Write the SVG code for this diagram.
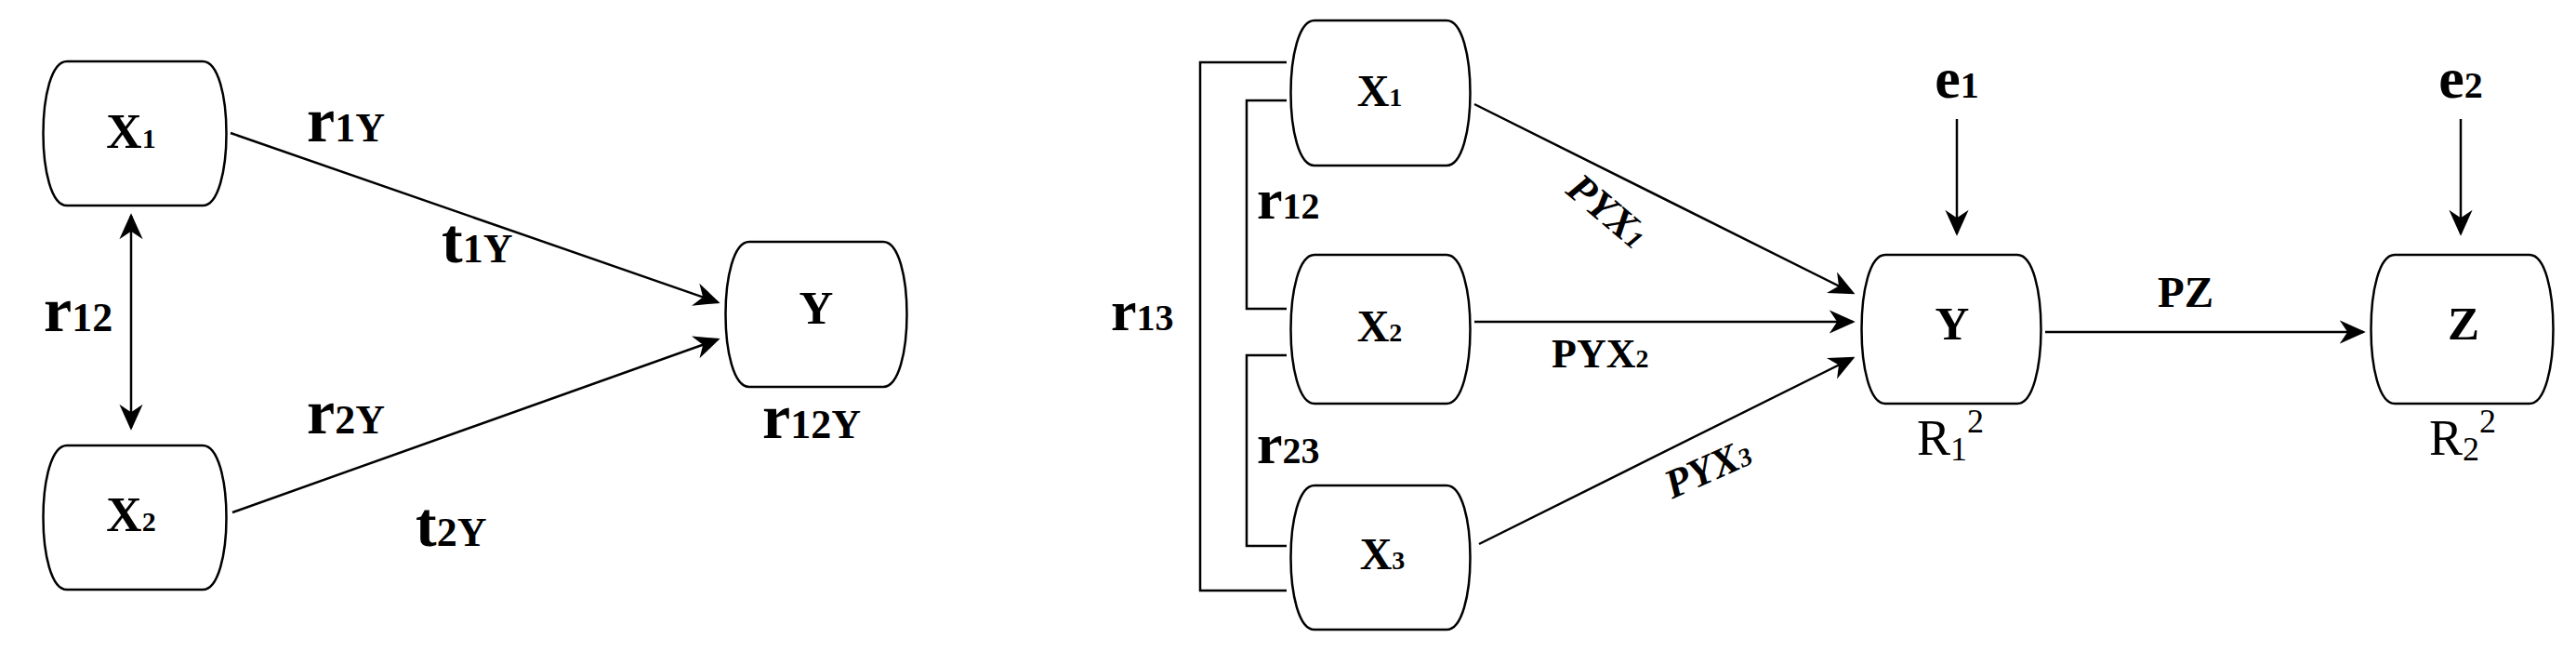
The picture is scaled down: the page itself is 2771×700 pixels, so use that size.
<svg xmlns="http://www.w3.org/2000/svg" width="2771" height="700" viewBox="0 0 2771 700">
<defs>
<marker id="ah" viewBox="0 0 20 20" refX="18" refY="10" markerWidth="28" markerHeight="28" markerUnits="userSpaceOnUse" orient="auto-start-reverse"><path d="M0,1 L20,10 L0,19 L6,10 Z" fill="#000"/></marker>
</defs>
<style>
.n{fill:#fff;stroke:#000;stroke-width:2.5}
.c{fill:none;stroke:#000;stroke-width:2.5}
text{font-family:"Liberation Serif","Times New Roman",serif;font-weight:bold;fill:#000}
.lg{font-size:53px}
.sm{font-size:30px}
.r{font-size:68px}
.rs{font-size:44px}
.rt{font-size:48px}
.rts{font-size:28px}
.m{text-anchor:middle}
.reg{font-weight:normal}
</style>
<g id="L_X1"><path class="n" d="M72,66 H218 C252,66 252,221 218,221 H72 C38,221 38,66 72,66 Z"/><text class="lg m" x="141" y="159">X<tspan class="sm">1</tspan></text></g>
<g id="L_X2"><path class="n" d="M72,479 H218 C252,479 252,634 218,634 H72 C38,634 38,479 72,479 Z"/><text class="lg m" x="141" y="571">X<tspan class="sm">2</tspan></text></g>
<g id="L_Y"><path class="n" d="M806,260 H950 C984,260 984,416 950,416 H806 C772,416 772,260 806,260 Z"/><text class="m" style="font-size:51px" x="878" y="348">Y</text></g>
<g id="R_X1"><path class="n" d="M1414,22 H1556 C1590,22 1590,178 1556,178 H1414 C1380,178 1380,22 1414,22 Z"/><text class="rt m" x="1484" y="114">X<tspan class="rts">1</tspan></text></g>
<g id="R_X2"><path class="n" d="M1414,274 H1556 C1590,274 1590,434 1556,434 H1414 C1380,434 1380,274 1414,274 Z"/><text class="rt m" x="1484" y="367">X<tspan class="rts">2</tspan></text></g>
<g id="R_X3"><path class="n" d="M1414,522 H1556 C1590,522 1590,677 1556,677 H1414 C1380,677 1380,522 1414,522 Z"/><text class="rt m" x="1487" y="612">X<tspan class="rts">3</tspan></text></g>
<g id="R_Y"><path class="n" d="M2028,274 H2170 C2204,274 2204,434 2170,434 H2028 C1994,434 1994,274 2028,274 Z"/><text class="m" style="font-size:51px" x="2100" y="365">Y</text></g>
<g id="R_Z"><path class="n" d="M2576,274 H2721 C2755,274 2755,434 2721,434 H2576 C2542,434 2542,274 2576,274 Z"/><text class="m" style="font-size:51px" x="2650" y="365">Z</text></g>
<g id="connectors">
<path class="c" d="M248,143 L772,325" marker-end="url(#ah)"/>
<path class="c" d="M250,551 L772,365" marker-end="url(#ah)"/>
<path class="c" d="M141,232 L141,460" marker-start="url(#ah)" marker-end="url(#ah)"/>
<path class="c" d="M1384,67 H1291 V635 H1384"/>
<path class="c" d="M1384,108 H1341 V332 H1384"/>
<path class="c" d="M1384,382 H1341 V587 H1384"/>
<path class="c" d="M1586,112 L1993,315" marker-end="url(#ah)"/>
<path class="c" d="M1586,346 L1993,346" marker-end="url(#ah)"/>
<path class="c" d="M1591,585 L1993,385" marker-end="url(#ah)"/>
<path class="c" d="M2200,357 L2542,357" marker-end="url(#ah)"/>
<path class="c" d="M2105,128 L2105,251" marker-end="url(#ah)"/>
<path class="c" d="M2647,128 L2647,251" marker-end="url(#ah)"/>
</g>
<g id="labels">
<text class="r" x="330" y="152">r<tspan class="rs">1Y</tspan></text>
<text class="r" x="475" y="282">t<tspan class="rs">1Y</tspan></text>
<text class="r" x="47" y="356">r<tspan class="rs">12</tspan></text>
<text class="r" x="330" y="466">r<tspan class="rs">2Y</tspan></text>
<text class="r" x="447" y="587">t<tspan class="rs">2Y</tspan></text>
<text class="r" x="820" y="471">r<tspan class="rs">12Y</tspan></text>
<text class="r" x="1195" y="355" style="font-size:62px">r<tspan class="rs" style="font-size:40px">13</tspan></text>
<text class="r" x="1352" y="235" style="font-size:62px">r<tspan class="rs" style="font-size:40px">12</tspan></text>
<text class="r" x="1352" y="498" style="font-size:62px">r<tspan class="rs" style="font-size:40px">23</tspan></text>
<text class="m" style="font-size:62px" x="2105" y="105">e<tspan style="font-size:40px">1</tspan></text>
<text class="m" style="font-size:62px" x="2647" y="105">e<tspan style="font-size:40px">2</tspan></text>
<text class="m" style="font-size:47px" x="2351" y="330">PZ</text>
<text style="font-size:44px" x="1669" y="395">PYX<tspan style="font-size:28px">2</tspan></text>
<text class="m" style="font-size:44px;font-style:italic" transform="translate(1720,238) rotate(40)">PYX<tspan style="font-size:28px">1</tspan></text>
<text class="m" style="font-size:44px;font-style:italic" transform="translate(1843,517) rotate(-24)">PYX<tspan style="font-size:28px">3</tspan></text>
<text class="m reg" style="font-size:54px" x="2098" y="489">R<tspan dy="6" style="font-size:36px">1</tspan><tspan dy="-30" style="font-size:36px">2</tspan></text>
<text class="m reg" style="font-size:54px" x="2649" y="489">R<tspan dy="6" style="font-size:36px">2</tspan><tspan dy="-30" style="font-size:36px">2</tspan></text>
</g>
</svg>
